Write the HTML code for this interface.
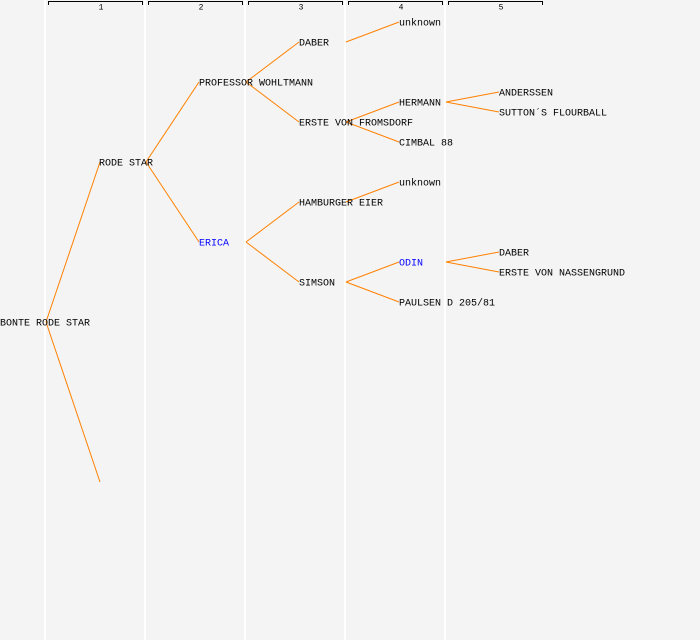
<!DOCTYPE html>
<html><head><style>
body{margin:0;background:#f4f4f4;}
svg{display:block}
text{font-family:"Liberation Mono",monospace;font-size:10px;fill:#000;dominant-baseline:central}
.h{font-size:8px;text-anchor:middle}
</style></head><body>
<svg width="700" height="640" xmlns="http://www.w3.org/2000/svg">
<rect width="700" height="640" fill="#f4f4f4"/>
<g stroke="#ffffff" stroke-width="2">
<line x1="45" y1="0" x2="45" y2="640"/><line x1="145" y1="0" x2="145" y2="640"/>
<line x1="245" y1="0" x2="245" y2="640"/><line x1="345" y1="0" x2="345" y2="640"/>
<line x1="445" y1="0" x2="445" y2="640"/>
</g>
<g stroke="#000" fill="none" stroke-width="1">
<path d="M48.5 5V1.5H142.5V5"/><path d="M148.5 5V1.5H242.5V5"/><path d="M248.5 5V1.5H342.5V5"/>
<path d="M348.5 5V1.5H442.5V5"/><path d="M448.5 5V1.5H542.5V5"/>
</g>
<g transform="translate(0,2)">
<text class="h" x="101" y="6">1</text><text class="h" x="201" y="6">2</text><text class="h" x="301" y="6">3</text><text class="h" x="401" y="6">4</text><text class="h" x="501" y="6">5</text>
</g>
<g stroke="#ff8000" stroke-width="1" fill="none">
<path d="M46 322L100 162M46 322L100 482"/>
<path d="M146 162L199 82M146 162L199 242"/>
<path d="M246 82L299 42M246 82L299 122"/>
<path d="M246 242L299 202M246 242L299 282"/>
<path d="M346 42L399 22"/>
<path d="M346 122L399 102M346 122L399 142"/>
<path d="M346 202L399 182"/>
<path d="M346 282L399 262M346 282L399 302"/>
<path d="M446 102L499 92M446 102L499 112"/>
<path d="M446 262L499 252M446 262L499 272"/>
</g>
<g transform="translate(0,2)">
<text x="0" y="322">BONTE RODE STAR</text>
<text x="99" y="162">RODE STAR</text>
<text x="199" y="82">PROFESSOR WOHLTMANN</text>
<text x="199" y="242" style="fill:#0000ff">ERICA</text>
<text x="299" y="42">DABER</text>
<text x="299" y="122">ERSTE VON FROMSDORF</text>
<text x="299" y="202">HAMBURGER EIER</text>
<text x="299" y="282">SIMSON</text>
<text x="399" y="22">unknown</text>
<text x="399" y="102">HERMANN</text>
<text x="399" y="142">CIMBAL 88</text>
<text x="399" y="182">unknown</text>
<text x="399" y="262" style="fill:#0000ff">ODIN</text>
<text x="399" y="302">PAULSEN D 205/81</text>
<text x="499" y="92">ANDERSSEN</text>
<text x="499" y="112">SUTTON´S FLOURBALL</text>
<text x="499" y="252">DABER</text>
<text x="499" y="272">ERSTE VON NASSENGRUND</text>
</g>
</svg>
</body></html>
